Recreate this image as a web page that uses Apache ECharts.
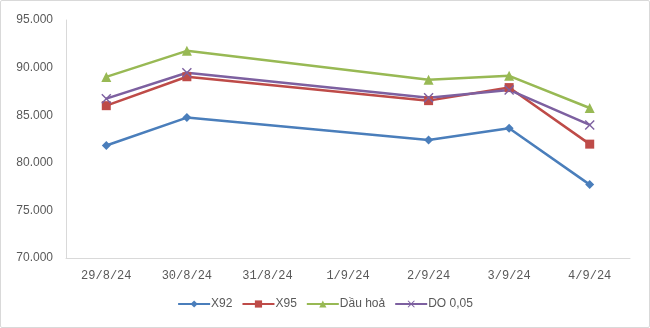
<!DOCTYPE html>
<html><head><meta charset="utf-8">
<script src="https://cdn.jsdelivr.net/npm/echarts@6/dist/echarts.min.js"></script>
<style>html,body{margin:0;padding:0;background:#fff}#c{position:absolute;left:0;top:0;width:648px;height:326px;border:1px solid #d9d9d9;border-radius:2px}</style>
</head><body><div id="c"></div>
<script>
const categories = ['29/8/24','30/8/24','31/8/24','1/9/24','2/9/24','3/9/24','4/9/24'];
const x92 = [81.82, 84.75, null, null, 82.40, 83.63, 77.71];
const x95 = [86.00, 89.04, null, null, 86.53, 87.90, 81.96];
const dauHoa = [89.02, 91.76, null, null, 88.72, 89.14, 85.76];
const do005 = [86.74, 89.46, null, null, 86.84, 87.65, 83.98];
const seriesNames = ['X92','X95','Dầu hoả','DO 0,05'];
const yMin = 70, yMax = 95, yStep = 5;

const crossPath = 'path://M0,1 L1,0 L5,4 L9,0 L10,1 L6,5 L10,9 L9,10 L5,6 L1,10 L0,9 L4,5 Z';
const chart = echarts.init(document.getElementById('c'));
function mk(name, data, color, symbol, size){
  return {name:name, type:'line', data:data, connectNulls:true, symbol:symbol, symbolSize:size,
    showAllSymbol:true, lineStyle:{color:color,width:2.5}, itemStyle:{color:color,borderColor:color,borderWidth:0}, z:2};
}
chart.setOption({
  animation:false,
  grid:{left:65,right:19,top:19,bottom:69},
  xAxis:{type:'category',data:categories,boundaryGap:true,
    axisLine:{lineStyle:{color:'#d9d9d9',width:1}},axisTick:{show:false},
    axisLabel:{color:'#595959',fontFamily:'Liberation Mono',fontSize:12,margin:12}},
  yAxis:{type:'value',min:yMin,max:yMax,interval:yStep,
    axisLine:{show:true,lineStyle:{color:'#d9d9d9',width:1}},axisTick:{show:false},splitLine:{show:false},
    axisLabel:{color:'#595959',fontFamily:'Liberation Sans',fontSize:12,margin:13,formatter:function(v){return v+'.000';}}},
  legend:{bottom:12,left:'center',itemWidth:32,itemHeight:9,itemGap:9,
    textStyle:{color:'#595959',fontFamily:'Liberation Sans',fontSize:12,padding:[0,0,0,-4]},
    data:seriesNames},
  series:[
    mk(seriesNames[0], x92, '#4a7ebb','diamond',9),
    mk(seriesNames[1], x95, '#be4b48','rect',9),
    mk(seriesNames[2], dauHoa, '#98b954','triangle',10),
    mk(seriesNames[3], do005, '#7d60a0',crossPath,10)
  ]
});
</script></body></html>
